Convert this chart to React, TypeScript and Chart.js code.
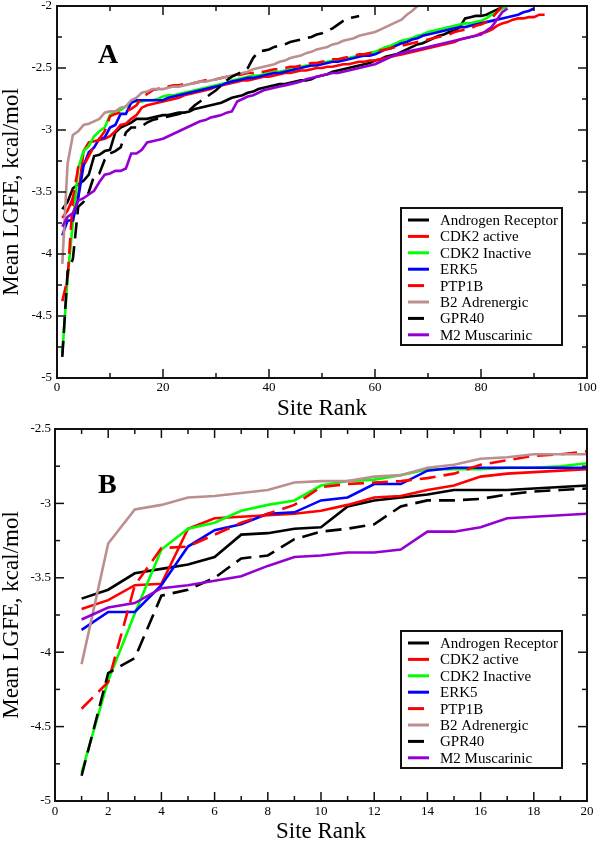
import React, { useEffect, useRef } from 'react';
import { Chart, registerables } from 'chart.js';

Chart.register(...registerables);

// ---------- data ----------
const seriesNames = [
  'Androgen Receptor',
  'CDK2 active',
  'CDK2 Inactive',
  'ERK5',
  'PTP1B',
  'B2 Adrenergic',
  'GPR40',
  'M2 Muscarinic',
];

const androgenReceptor = [
  -3.64, -3.58, -3.47, -3.44, -3.41, -3.36, -3.21, -3.2, -3.17, -3.16, -3.02, -2.98, -2.96, -2.94, -2.91, -2.91, -2.91, -2.9, -2.89, -2.88,
  -2.88, -2.87, -2.86, -2.86, -2.85, -2.83, -2.82, -2.81, -2.8, -2.79, -2.78, -2.76, -2.74, -2.73, -2.72, -2.7, -2.69, -2.67, -2.66, -2.65,
  -2.64, -2.63, -2.63, -2.62, -2.61, -2.6, -2.6, -2.59, -2.57, -2.56, -2.55, -2.53, -2.52, -2.51, -2.5, -2.49, -2.48, -2.47, -2.46, -2.44,
  -2.43, -2.41, -2.4, -2.39, -2.37, -2.35, -2.33, -2.31, -2.3, -2.28, -2.26, -2.24, -2.23, -2.21, -2.2, -2.17, -2.1, -2.09, -2.08, -2.08,
  -2.07, -2.05, -2.03, -2.01,
];

const cdk2Active = [
  -3.71, -3.65, -3.55, -3.54, -3.17, -3.1, -3.09, -3.08, -3.07, -3.05, -3.01, -2.96, -2.95, -2.91, -2.88, -2.82, -2.8, -2.79, -2.78, -2.77,
  -2.76, -2.75, -2.74, -2.72, -2.71, -2.7, -2.69, -2.68, -2.67, -2.65, -2.64, -2.63, -2.62, -2.61, -2.6, -2.6, -2.59, -2.58, -2.57, -2.57,
  -2.56, -2.55, -2.54, -2.54, -2.53, -2.52, -2.52, -2.51, -2.5, -2.5, -2.49, -2.49, -2.48, -2.47, -2.47, -2.46, -2.45, -2.45, -2.44, -2.44,
  -2.43, -2.42, -2.41, -2.4, -2.39, -2.38, -2.37, -2.36, -2.35, -2.34, -2.33, -2.32, -2.31, -2.3, -2.29, -2.27, -2.26, -2.25, -2.24, -2.22,
  -2.21, -2.19, -2.16, -2.14, -2.13, -2.11, -2.1, -2.1, -2.09, -2.09, -2.07, -2.07,
];

const cdk2Inactive = [
  -4.81, -4.19, -3.74, -3.31, -3.17, -3.13, -3.05, -3.01, -2.98, -2.88, -2.85, -2.84, -2.81, -2.77, -2.77, -2.77, -2.76, -2.76, -2.75, -2.73,
  -2.72, -2.72, -2.71, -2.7, -2.69, -2.68, -2.67, -2.66, -2.65, -2.64, -2.63, -2.62, -2.6, -2.59, -2.58, -2.57, -2.56, -2.56, -2.55, -2.54,
  -2.53, -2.53, -2.52, -2.51, -2.5, -2.49, -2.48, -2.48, -2.47, -2.46, -2.45, -2.44, -2.44, -2.43, -2.42, -2.41, -2.4, -2.39, -2.38, -2.37,
  -2.35, -2.33, -2.32, -2.3, -2.28, -2.27, -2.26, -2.24, -2.23, -2.21, -2.2, -2.19, -2.18, -2.17, -2.16, -2.15, -2.14, -2.14, -2.13, -2.12,
  -2.1, -2.07, -2.05, -2.02, -2.0,
];

const erk5 = [
  -3.85, -3.73, -3.73, -3.55, -3.29, -3.18, -3.14, -3.07, -3.06, -2.98, -2.96, -2.87, -2.87, -2.78, -2.76, -2.76, -2.76, -2.76, -2.76, -2.76,
  -2.74, -2.73, -2.72, -2.71, -2.7, -2.69, -2.68, -2.67, -2.66, -2.65, -2.64, -2.62, -2.61, -2.6, -2.59, -2.58, -2.58, -2.57, -2.56, -2.55,
  -2.54, -2.54, -2.53, -2.52, -2.51, -2.5, -2.49, -2.48, -2.48, -2.47, -2.46, -2.45, -2.45, -2.44, -2.43, -2.42, -2.41, -2.4, -2.4, -2.39,
  -2.37, -2.35, -2.34, -2.32, -2.3, -2.29, -2.27, -2.26, -2.24, -2.23, -2.22, -2.21, -2.2, -2.19, -2.18, -2.17, -2.17, -2.16, -2.15, -2.14,
  -2.13, -2.12, -2.11, -2.1, -2.09, -2.08, -2.07, -2.05, -2.04, -2.02,
];

const ptp1b = [
  -4.38, -4.2, -3.55, -3.3, -3.29, -3.21, -3.13, -3.07, -3.01, -2.89, -2.87, -2.86, -2.85, -2.83, -2.8, -2.74, -2.71, -2.68, -2.67, -2.65,
  -2.65, -2.64, -2.64, -2.63, -2.63, -2.62, -2.61, -2.6, -2.6, -2.59, -2.58, -2.57, -2.57, -2.56, -2.55, -2.54, -2.54, -2.53, -2.53, -2.52,
  -2.51, -2.51, -2.5, -2.49, -2.49, -2.48, -2.47, -2.46, -2.46, -2.45, -2.44, -2.43, -2.43, -2.42, -2.41, -2.4, -2.39, -2.39, -2.38, -2.37,
  -2.36, -2.35, -2.34, -2.33, -2.32, -2.31, -2.3, -2.29, -2.28, -2.27, -2.26, -2.25, -2.24, -2.23, -2.21, -2.2, -2.19, -2.18, -2.16, -2.15,
  -2.13, -2.1, -2.05, -2.0,
];

const b2Adrenergic = [
  -4.08, -3.27, -3.04, -3.01, -2.96, -2.95, -2.93, -2.91, -2.86, -2.85, -2.85, -2.82, -2.81, -2.76, -2.74, -2.7, -2.69, -2.67, -2.67, -2.67,
  -2.66, -2.65, -2.65, -2.64, -2.63, -2.62, -2.61, -2.61, -2.6, -2.59, -2.58, -2.57, -2.56, -2.55, -2.54, -2.53, -2.51, -2.5, -2.49, -2.48,
  -2.47, -2.45, -2.44, -2.42, -2.41, -2.4, -2.38, -2.37, -2.35, -2.34, -2.33, -2.31, -2.3, -2.28, -2.27, -2.26, -2.24, -2.23, -2.22, -2.21,
  -2.19, -2.17, -2.15, -2.13, -2.11, -2.07, -2.04, -2.0,
];

const gpr40 = [
  -4.83, -4.14, -4.04, -3.62, -3.58, -3.5, -3.37, -3.35, -3.24, -3.19, -3.17, -3.14, -3.02, -2.98, -2.98, -2.97, -2.94, -2.92, -2.91, -2.9,
  -2.89, -2.88, -2.87, -2.86, -2.84, -2.8, -2.77, -2.74, -2.71, -2.68, -2.64, -2.6, -2.57, -2.55, -2.53, -2.5, -2.42, -2.37, -2.36, -2.35,
  -2.33, -2.32, -2.31, -2.29, -2.28, -2.27, -2.26, -2.25, -2.23, -2.22, -2.2, -2.18, -2.15, -2.12, -2.1, -2.09, -2.08,
];

const m2Muscarinic = [
  -3.78, -3.7, -3.67, -3.57, -3.55, -3.52, -3.49, -3.42, -3.36, -3.35, -3.33, -3.33, -3.31, -3.19, -3.19, -3.16, -3.1, -3.09, -3.08, -3.07,
  -3.05, -3.03, -3.01, -2.99, -2.97, -2.95, -2.93, -2.92, -2.9, -2.89, -2.88, -2.86, -2.85, -2.77, -2.75, -2.73, -2.72, -2.7, -2.68, -2.67,
  -2.66, -2.65, -2.64, -2.63, -2.62, -2.61, -2.59, -2.58, -2.57, -2.56, -2.55, -2.54, -2.54, -2.53, -2.52, -2.51, -2.5, -2.49, -2.48, -2.47,
  -2.45, -2.43, -2.41, -2.39, -2.38, -2.37, -2.36, -2.35, -2.34, -2.33, -2.32, -2.31, -2.3, -2.29, -2.28, -2.27, -2.26, -2.25, -2.24, -2.23,
  -2.2, -2.17, -2.11, -2.05, -2.02,
];

const seriesValues = [androgenReceptor, cdk2Active, cdk2Inactive, erk5, ptp1b, b2Adrenergic, gpr40, m2Muscarinic];

// ---------- styles ----------
const seriesColors = ['#000000', '#ff0000', '#00ff00', '#0000ff', '#ff0000', '#bc8f8f', '#000000', '#9400d3'];
const seriesDashed = [false, false, false, false, true, false, true, false];

const FONT = "'Liberation Serif', 'Times New Roman', serif";
Chart.defaults.font.family = FONT;
Chart.defaults.color = '#000';

const framePlugin = {
  id: 'frameTicks',
  afterDatasetsDraw(chart: any) {
    const { ctx, chartArea: a, scales } = chart;
    const xs = scales.x;
    const ys = scales.y;
    ctx.save();
    ctx.strokeStyle = '#111';
    ctx.lineWidth = 1.5;
    const seg = (x1: number, y1: number, x2: number, y2: number) => {
      ctx.beginPath();
      ctx.moveTo(x1, y1);
      ctx.lineTo(x2, y2);
      ctx.stroke();
    };
    const MAJ = 9;
    const MIN = 5;
    const xv = xs.ticks.map((t: any) => t.value);
    xv.forEach((v: number, i: number) => {
      const p = xs.getPixelForValue(v);
      seg(p, a.bottom, p, a.bottom - MAJ);
      seg(p, a.top, p, a.top + MAJ);
      if (i < xv.length - 1) {
        const q = xs.getPixelForValue((v + xv[i + 1]) / 2);
        seg(q, a.bottom, q, a.bottom - MIN);
        seg(q, a.top, q, a.top + MIN);
      }
    });
    const yv = ys.ticks.map((t: any) => t.value);
    yv.forEach((v: number, i: number) => {
      const p = ys.getPixelForValue(v);
      seg(a.left, p, a.left + MAJ, p);
      seg(a.right, p, a.right - MAJ, p);
      if (i < yv.length - 1) {
        const q = ys.getPixelForValue((v + yv[i + 1]) / 2);
        seg(a.left, q, a.left + MIN, q);
        seg(a.right, q, a.right - MIN, q);
      }
    });
    ctx.lineWidth = 2;
    ctx.strokeRect(a.left, a.top, a.right - a.left, a.bottom - a.top);
    ctx.restore();
  },
  afterDraw(chart: any, _args: any, opts: any) {
    const { ctx, chartArea: a } = chart;
    ctx.save();
    const w = 161;
    const h = 137;
    const right = a.right - 25;
    const bottom = a.bottom - 33;
    const left = right - w;
    const top = bottom - h;
    ctx.fillStyle = '#fff';
    ctx.fillRect(left, top, w, h);
    ctx.lineWidth = 2;
    ctx.strokeStyle = '#111';
    ctx.strokeRect(left, top, w, h);
    ctx.font = `15px ${FONT}`;
    ctx.textBaseline = 'middle';
    ctx.textAlign = 'left';
    chart.data.datasets.forEach((ds: any, i: number) => {
      const yy = top + 12 + i * 16.4;
      ctx.strokeStyle = ds.borderColor;
      ctx.lineWidth = 3;
      ctx.setLineDash(ds.borderDash || []);
      ctx.beginPath();
      ctx.moveTo(left + 7, yy);
      ctx.lineTo(left + 28, yy);
      ctx.stroke();
      ctx.setLineDash([]);
      ctx.fillStyle = '#000';
      ctx.fillText(ds.label, left + 39, yy + 1);
    });
    ctx.font = `bold 28px ${FONT}`;
    ctx.textBaseline = 'alphabetic';
    ctx.fillStyle = '#000';
    ctx.fillText(opts.letter, opts.letterX, opts.letterY);
    ctx.restore();
  },
};

type PanelProps = {
  top: number;
  height: number;
  xMax: number;
  xStep: number;
  yMax: number;
  letter: string;
  letterY: number;
  padTop: number;
  yWidth: number;
  xHeight: number;
  yTickPad: number;
  xTickPad: number;
  xTitlePad: number;
};

function Panel(p: PanelProps) {
  const ref = useRef<HTMLCanvasElement | null>(null);
  useEffect(() => {
    if (!ref.current) return;
    const datasets = seriesNames.map((name, i) => ({
      label: name,
      data: seriesValues[i].map((v, k) => ({ x: k + 1, y: v })),
      borderColor: seriesColors[i],
      backgroundColor: seriesColors[i],
      borderWidth: 2.6,
      borderDash: seriesDashed[i] ? [16, 8] : [],
      pointRadius: 0,
      tension: 0,
      fill: false,
      order: seriesNames.length - i,
    }));
    const chart = new Chart(ref.current, {
      type: 'line',
      data: { datasets },
      plugins: [framePlugin],
      options: {
        animation: false,
        responsive: false,
        devicePixelRatio: 1,
        layout: { padding: { top: p.padTop, right: 13, left: 0, bottom: 0 } },
        plugins: {
          legend: { display: false },
          tooltip: { enabled: false },
          frameTicks: { letter: p.letter, letterX: 98, letterY: p.letterY },
        } as any,
        scales: {
          x: {
            type: 'linear',
            min: 0,
            max: p.xMax,
            grid: { display: false, drawTicks: false },
            border: { display: false },
            ticks: {
              stepSize: p.xStep,
              autoSkip: false,
              maxRotation: 0,
              padding: p.xTickPad,
              font: { size: 13, family: FONT },
              color: '#000',
            },
            title: {
              display: true,
              text: 'Site Rank',
              font: { size: 23, family: FONT, lineHeight: 1 },
              padding: { top: 0, bottom: p.xTitlePad },
              color: '#000',
            },
            afterFit: (s: any) => {
              s.height = p.xHeight;
              s.paddingLeft = 0;
              s.paddingRight = 0;
            },
          },
          y: {
            type: 'linear',
            min: -5,
            max: p.yMax,
            grid: { display: false, drawTicks: false },
            border: { display: false },
            ticks: {
              stepSize: 0.5,
              padding: p.yTickPad,
              font: { size: 13, family: FONT },
              color: '#000',
              callback: (v: any) => String(Math.round(Number(v) * 100) / 100),
            },
            title: {
              display: true,
              text: 'Mean LGFE, kcal/mol',
              font: { size: 23, family: FONT, lineHeight: 1 },
              padding: { top: 0, bottom: 0 },
              color: '#000',
            },
            afterFit: (s: any) => {
              s.width = p.yWidth;
              s.paddingTop = 0;
              s.paddingBottom = 0;
            },
          },
        },
      } as any,
    });
    return () => chart.destroy();
  }, []);
  return (
    <canvas
      ref={ref}
      width={600}
      height={p.height}
      style={{ position: 'absolute', left: 0, top: p.top, width: 600, height: p.height, display: 'block' }}
    />
  );
}

export default function App() {
  return (
    <div
      style={{
        position: 'absolute',
        left: 0,
        top: 0,
        width: 600,
        height: 841,
        overflow: 'hidden',
        background: '#fff',
      }}
    >
      <Panel
        top={0}
        height={420}
        xMax={100}
        xStep={20}
        yMax={-2}
        letter="A"
        letterY={63}
        padTop={6}
        yWidth={57}
        xHeight={42}
        yTickPad={5}
        xTickPad={2}
        xTitlePad={0}
      />
      <Panel
        top={420}
        height={421}
        xMax={20}
        xStep={2}
        yMax={-2.5}
        letter="B"
        letterY={73}
        padTop={9}
        yWidth={55}
        xHeight={40}
        yTickPad={4}
        xTickPad={3}
        xTitlePad={-2}
      />
    </div>
  );
}
